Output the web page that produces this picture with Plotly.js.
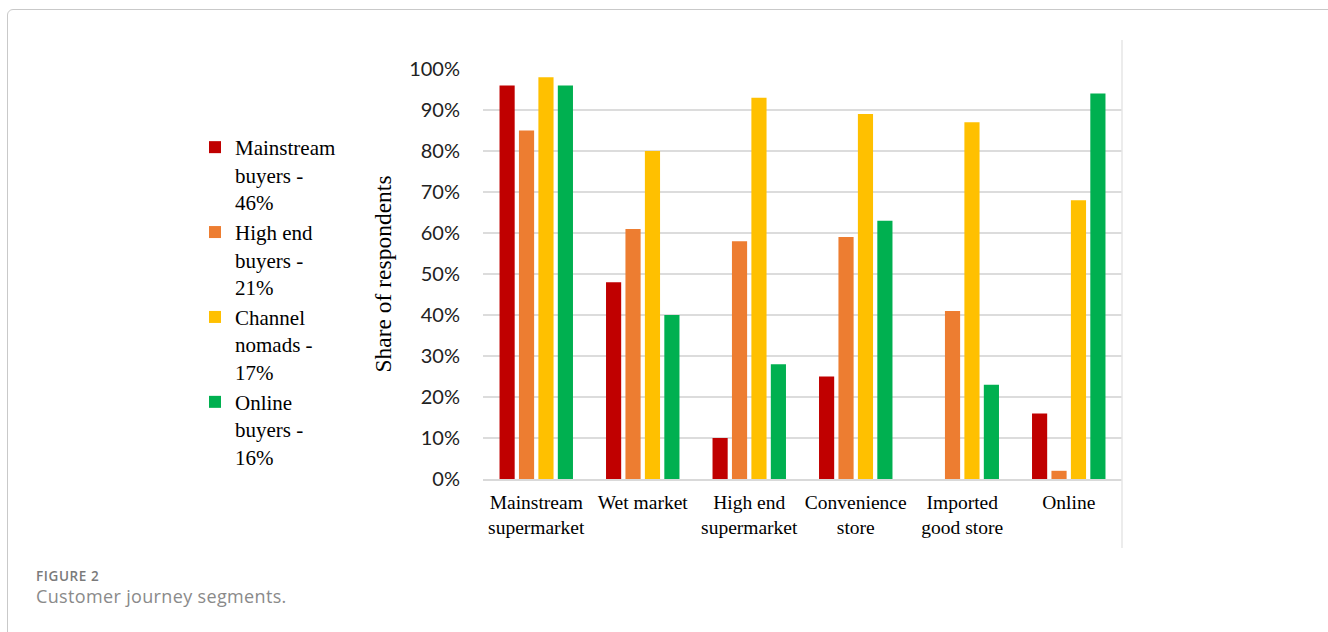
<!DOCTYPE html>
<html>
<head>
<meta charset="utf-8">
<script src="https://cdn.plot.ly/plotly-3.0.1.min.js"></script>
<style>
  html, body { margin: 0; padding: 0; width: 1328px; height: 632px; overflow: hidden; background: #fff; }
  #frame { position: absolute; left: 7px; top: 9px; width: 1400px; height: 700px; border: 1px solid #c9c9c9; border-radius: 6px; }
  #chart { position: absolute; left: 0; top: 0; width: 1328px; height: 632px; }
  .cap1 { position: absolute; left: 36px; top: 567px; font-family: 'Open Sans', sans-serif; font-size: 13.5px; font-weight: 600; color: #7a7a7a; letter-spacing: 0.6px; }
  .cap2 { position: absolute; left: 36px; top: 584px; font-family: 'Open Sans', sans-serif; font-size: 18px; color: #8a8a8a; letter-spacing: 0.35px; }
</style>
</head>
<body>
<div id="frame"></div>
<div id="chart"></div>
<div class="cap1">FIGURE 2</div>
<div class="cap2">Customer journey segments.</div>
<script>
const categories = ["Mainstream<br>supermarket", "Wet market", "High end<br>supermarket", "Convenience<br>store", "Imported<br>good store", "Online"];
const seriesNames = ["Mainstream<br>buyers -<br>46%", "High end<br>buyers -<br>21%", "Channel<br>nomads -<br>17%", "Online<br>buyers -<br>16%"];
const mainstreamBuyers = [0.96, 0.48, 0.10, 0.25, 0.00, 0.16];
const highEndBuyers    = [0.85, 0.61, 0.58, 0.59, 0.41, 0.02];
const channelNomads    = [0.98, 0.80, 0.93, 0.89, 0.87, 0.68];
const onlineBuyers     = [0.96, 0.40, 0.28, 0.63, 0.23, 0.94];
const colors = ["#C00000", "#ED7D31", "#FFC000", "#00B050"];
const yTickVals = [0, 0.1, 0.2, 0.3, 0.4, 0.5, 0.6, 0.7, 0.8, 0.9, 1.0];

const seriesValues = [mainstreamBuyers, highEndBuyers, channelNomads, onlineBuyers];
const traces = seriesValues.map((vals, i) => ({
  type: 'bar',
  x: categories,
  y: vals,
  name: seriesNames[i],
  marker: { color: colors[i], line: { width: 0 } },
  hoverinfo: 'x+y'
}));

const L = 483, R = 1122, T = 69, B = 479;
const pw = R - L, ph = B - T;
const px2x = p => (p - L) / pw;
const py2y = p => (B - p) / ph;

const layout = {
  width: 1328, height: 632,
  margin: { l: L, r: 1328 - R, t: T, b: 632 - B, pad: 0 },
  paper_bgcolor: 'rgba(0,0,0,0)',
  plot_bgcolor: 'rgba(0,0,0,0)',
  barmode: 'group',
  bargap: 0.27,
  bargroupgap: 0.22,
  showlegend: true,
  legend: {
    x: px2x(195), xanchor: 'left',
    y: py2y(127), yanchor: 'top',
    valign: 'top',
    tracegroupgap: 0,
    font: { family: 'Liberation Serif, Times New Roman, serif', size: 21, color: '#000' },
    bgcolor: 'rgba(0,0,0,0)'
  },
  xaxis: {
    type: 'category',
    tickfont: { family: 'Liberation Serif, Times New Roman, serif', size: 19.5, color: '#000' },
    showline: true, linecolor: '#d9d9d9', linewidth: 1.5,
    showgrid: false, ticks: '', ticklabelstandoff: 5,
    automargin: false, fixedrange: true
  },
  yaxis: {
    range: [0, 1],
    tickvals: yTickVals,
    tickformat: '.0%',
    tickfont: { family: 'Lato, Open Sans, sans-serif', size: 20, color: '#222' },
    showgrid: true, gridcolor: '#dcdcdc', gridwidth: 1.5,
    zeroline: false, showline: false, ticks: '',
    ticklabelstandoff: 22,
    title: { text: 'Share of respondents', font: { family: 'Liberation Serif, Times New Roman, serif', size: 23.5, color: '#000' }, standoff: 10 },
    automargin: false, fixedrange: true
  },
  shapes: [
    { type: 'line', xref: 'paper', yref: 'paper', x0: 1, x1: 1, y0: py2y(40), y1: py2y(548), line: { color: '#e6e6e6', width: 1.5 } }
  ]
};

Plotly.newPlot('chart', traces, layout, { displayModeBar: false, staticPlot: true });
</script>
</body>
</html>
